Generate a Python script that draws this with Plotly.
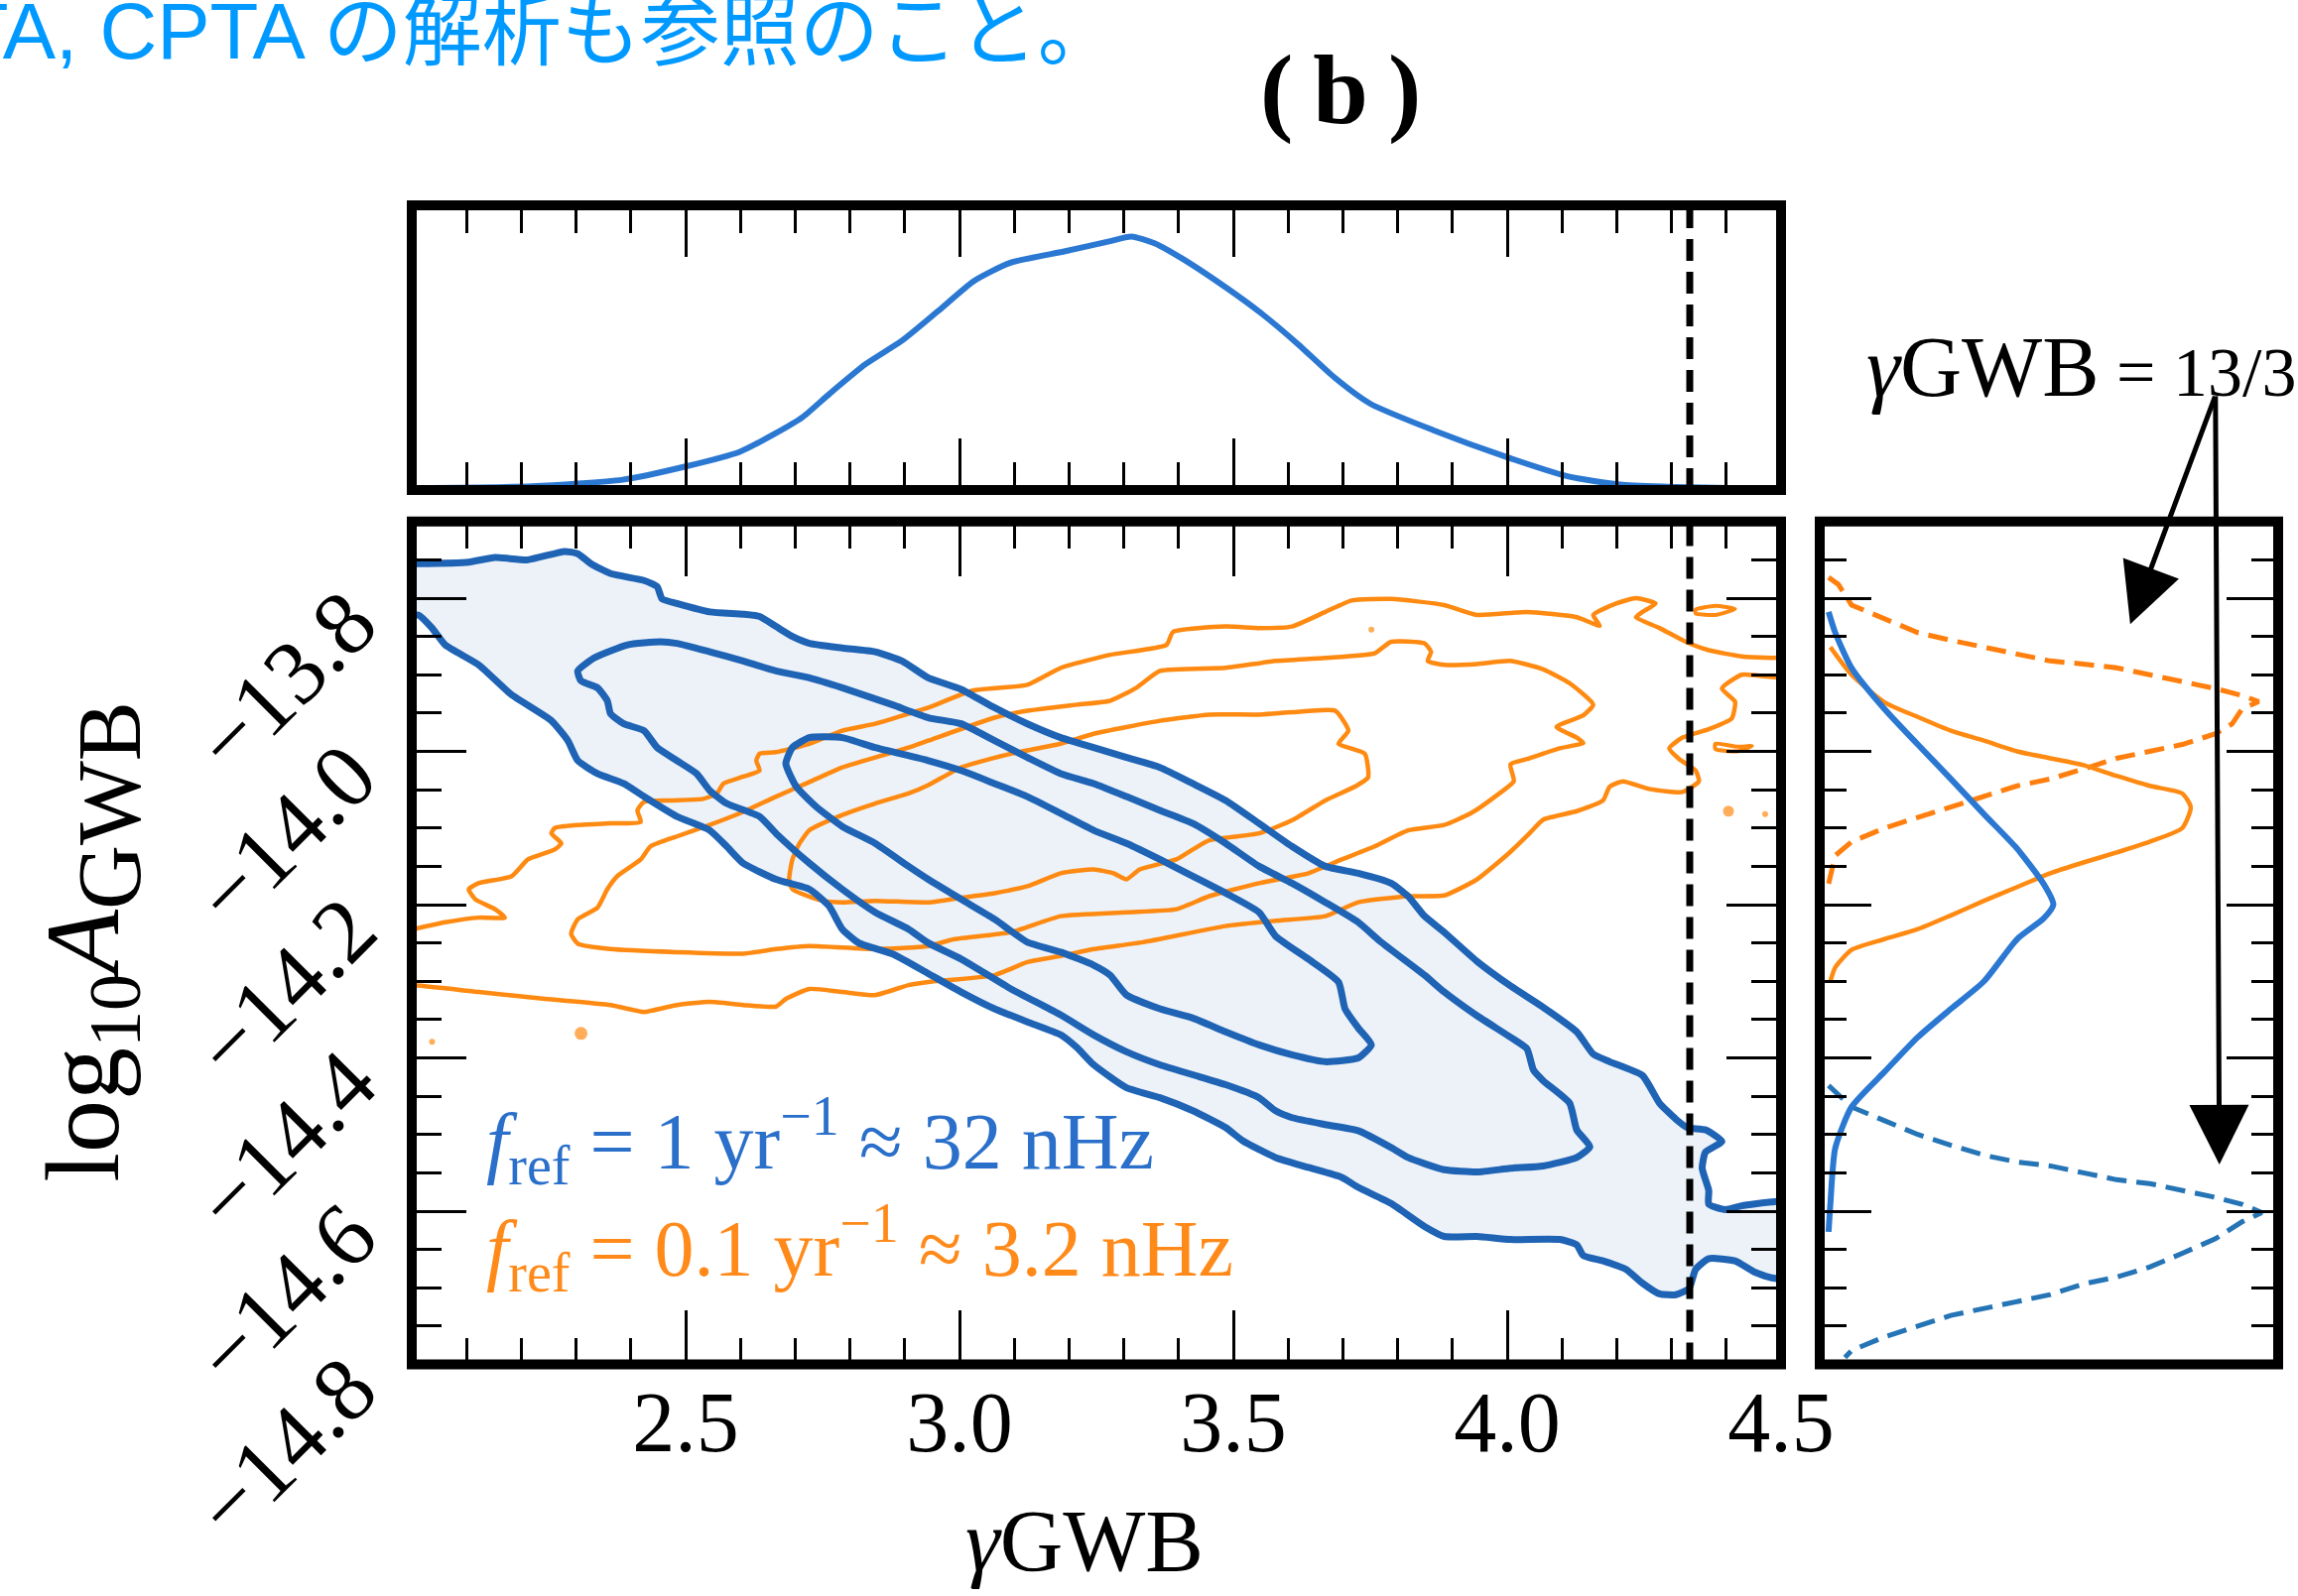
import plotly.graph_objects as go

# ---------------- data ----------------
GAMMA_REF = 13.0 / 3.0          # gamma_GWB = 13/3 (dashed line)

# x ticks (gamma) and y ticks (log10 A)
X_TICKS = [2.5, 3.0, 3.5, 4.0, 4.5]
X_TICK_TEXT = ["2.5", "3.0", "3.5", "4.0", "4.5"]
Y_TICKS = [-14.8, -14.6, -14.4, -14.2, -14.0, -13.8]
Y_TICK_TEXT = ["\u221214.8", "\u221214.6", "\u221214.4", "\u221214.2", "\u221214.0", "\u221213.8"]

# f_ref = 1/yr contours (gamma, log10A)
BLUE_3SIG = [(1.99, -13.755), (2.012, -13.755), (2.104, -13.753), (2.152, -13.747), (2.212, -13.750),
             (2.279, -13.739), (2.303, -13.742), (2.327, -13.755), (2.363, -13.768), (2.424, -13.777),
             (2.448, -13.785), (2.457, -13.801), (2.484, -13.807), (2.544, -13.818), (2.605, -13.821),
             (2.635, -13.824), (2.665, -13.837), (2.695, -13.850), (2.726, -13.859), (2.786, -13.865),
             (2.846, -13.870), (2.895, -13.882), (2.943, -13.904), (3.003, -13.919), (3.064, -13.943),
             (3.124, -13.964), (3.185, -13.982), (3.245, -13.995), (3.305, -14.008), (3.366, -14.021),
             (3.426, -14.042), (3.486, -14.064), (3.547, -14.094), (3.607, -14.124), (3.668, -14.150),
             (3.728, -14.159), (3.788, -14.172), (3.819, -14.189), (3.849, -14.215), (3.885, -14.236),
             (3.945, -14.274), (4.006, -14.306), (4.066, -14.334), (4.127, -14.366), (4.157, -14.395),
             (4.187, -14.405), (4.247, -14.423), (4.278, -14.459), (4.308, -14.480), (4.329, -14.491),
             (4.362, -14.494), (4.392, -14.509), (4.362, -14.523), (4.356, -14.544), (4.368, -14.573),
             (4.368, -14.591), (4.398, -14.598), (4.428, -14.593), (4.483, -14.588), (4.51, -14.588),
             (4.51, -14.687), (4.483, -14.687), (4.453, -14.680), (4.416, -14.665), (4.368, -14.662),
             (4.344, -14.676), (4.332, -14.701), (4.308, -14.709), (4.278, -14.708), (4.247, -14.694),
             (4.217, -14.676), (4.175, -14.665), (4.139, -14.658), (4.127, -14.644), (4.096, -14.637),
             (4.006, -14.637), (3.945, -14.633), (3.885, -14.633), (3.849, -14.620), (3.788, -14.590),
             (3.728, -14.569), (3.698, -14.556), (3.637, -14.543), (3.577, -14.530), (3.517, -14.508),
             (3.486, -14.491), (3.426, -14.469), (3.366, -14.452), (3.305, -14.439), (3.245, -14.409),
             (3.215, -14.387), (3.185, -14.370), (3.124, -14.353), (3.064, -14.336), (3.003, -14.314),
             (2.943, -14.290), (2.880, -14.265), (2.816, -14.250), (2.786, -14.232), (2.762, -14.202),
             (2.726, -14.180), (2.665, -14.167), (2.605, -14.146), (2.575, -14.124), (2.544, -14.103),
             (2.484, -14.085), (2.424, -14.059), (2.387, -14.042), (2.339, -14.029), (2.303, -14.012),
             (2.285, -13.986), (2.255, -13.960), (2.182, -13.926), (2.122, -13.887), (2.061, -13.861),
             (2.037, -13.839), (2.012, -13.822), (1.99, -13.822), (1.99, -13.755)]

BLUE_2SIG = [(2.303, -13.895), (2.333, -13.878), (2.394, -13.861), (2.454, -13.857), (2.484, -13.859),
             (2.544, -13.870), (2.605, -13.882), (2.665, -13.895), (2.726, -13.904), (2.786, -13.917),
             (2.877, -13.939), (2.943, -13.956), (3.003, -13.964), (3.064, -13.986), (3.124, -14.008),
             (3.185, -14.029), (3.245, -14.042), (3.305, -14.059), (3.366, -14.077), (3.426, -14.094),
             (3.486, -14.120), (3.547, -14.150), (3.607, -14.172), (3.668, -14.197), (3.728, -14.223),
             (3.770, -14.249), (3.849, -14.292), (3.885, -14.314), (3.945, -14.345), (4.006, -14.373),
             (4.036, -14.388), (4.048, -14.416), (4.066, -14.430), (4.114, -14.459), (4.127, -14.494),
             (4.151, -14.516), (4.127, -14.530), (4.066, -14.541), (4.006, -14.544), (3.945, -14.549),
             (3.885, -14.546), (3.849, -14.538), (3.819, -14.530), (3.788, -14.517), (3.728, -14.495),
             (3.668, -14.487), (3.607, -14.478), (3.577, -14.469), (3.547, -14.452), (3.486, -14.435),
             (3.426, -14.422), (3.366, -14.409), (3.305, -14.392), (3.245, -14.370), (3.185, -14.344),
             (3.094, -14.310), (3.003, -14.271), (2.943, -14.250), (2.907, -14.232), (2.846, -14.210),
             (2.786, -14.180), (2.726, -14.146), (2.665, -14.107), (2.635, -14.085), (2.575, -14.068),
             (2.544, -14.051), (2.520, -14.029), (2.484, -14.012), (2.448, -13.995), (2.424, -13.973),
             (2.387, -13.964), (2.363, -13.951), (2.357, -13.934), (2.339, -13.917), (2.309, -13.908),
             (2.303, -13.895)]

BLUE_1SIG = [(2.683, -14.016), (2.695, -13.995), (2.726, -13.982), (2.786, -13.982), (2.846, -13.995),
             (2.943, -14.012), (3.003, -14.025), (3.064, -14.042), (3.124, -14.059), (3.185, -14.081),
             (3.245, -14.103), (3.305, -14.120), (3.366, -14.141), (3.426, -14.163), (3.486, -14.185),
             (3.547, -14.210), (3.577, -14.241), (3.637, -14.271), (3.692, -14.301), (3.704, -14.336),
             (3.728, -14.361), (3.752, -14.383), (3.728, -14.400), (3.668, -14.405), (3.607, -14.396),
             (3.547, -14.383), (3.486, -14.366), (3.426, -14.348), (3.366, -14.336), (3.305, -14.318),
             (3.275, -14.292), (3.245, -14.279), (3.185, -14.262), (3.124, -14.249), (3.064, -14.219),
             (3.003, -14.193), (2.943, -14.167), (2.907, -14.150), (2.846, -14.120), (2.786, -14.098),
             (2.738, -14.072), (2.702, -14.046), (2.683, -14.016)]

# f_ref = 0.1/yr contours (gamma, log10A)
ORANGE_1SIG = [(2.689, -14.167), (2.695, -14.141), (2.708, -14.120), (2.726, -14.103), (2.786, -14.083),
               (2.846, -14.068), (2.907, -14.055), (2.943, -14.044), (3.003, -14.021), (3.094, -14.003),
               (3.185, -13.990), (3.245, -13.977), (3.366, -13.960), (3.456, -13.952), (3.547, -13.952),
               (3.607, -13.949), (3.686, -13.947), (3.710, -13.973), (3.692, -13.990), (3.740, -14.003),
               (3.746, -14.034), (3.722, -14.046), (3.668, -14.064), (3.607, -14.090), (3.547, -14.107),
               (3.456, -14.116), (3.426, -14.128), (3.396, -14.141), (3.329, -14.154), (3.305, -14.167),
               (3.281, -14.159), (3.245, -14.154), (3.185, -14.159), (3.124, -14.176), (3.064, -14.185),
               (3.003, -14.191), (2.943, -14.197), (2.846, -14.195), (2.786, -14.197), (2.750, -14.195),
               (2.695, -14.180), (2.689, -14.167)]

ORANGE_2SIG = [(2.291, -14.238), (2.303, -14.219), (2.339, -14.204), (2.357, -14.180), (2.375, -14.163),
               (2.418, -14.141), (2.436, -14.124), (2.484, -14.111), (2.544, -14.096), (2.605, -14.079),
               (2.665, -14.059), (2.726, -14.040), (2.786, -14.021), (2.846, -14.008), (2.907, -13.995),
               (2.943, -13.986), (3.064, -13.956), (3.124, -13.947), (3.215, -13.939), (3.275, -13.934),
               (3.323, -13.917), (3.366, -13.895), (3.486, -13.891), (3.577, -13.882), (3.668, -13.878),
               (3.758, -13.872), (3.788, -13.857), (3.849, -13.859), (3.861, -13.870), (3.855, -13.882),
               (3.885, -13.887), (3.945, -13.886), (4.006, -13.882), (4.066, -13.893), (4.114, -13.911),
               (4.157, -13.939), (4.139, -13.953), (4.090, -13.968), (4.127, -13.982), (4.139, -13.989),
               (4.096, -13.996), (4.036, -14.010), (4.006, -14.017), (4.012, -14.039), (3.976, -14.060),
               (3.933, -14.081), (3.885, -14.096), (3.819, -14.103), (3.758, -14.124), (3.698, -14.141),
               (3.637, -14.159), (3.547, -14.172), (3.456, -14.189), (3.396, -14.206), (3.305, -14.210),
               (3.185, -14.215), (3.094, -14.236), (2.991, -14.245), (2.943, -14.254), (2.846, -14.258),
               (2.726, -14.254), (2.665, -14.258), (2.605, -14.264), (2.484, -14.262), (2.363, -14.258),
               (2.303, -14.251), (2.291, -14.238)]

ORANGE_3SIG = [(1.99, -14.232), (2.001, -14.232), (2.061, -14.223), (2.122, -14.217), (2.170, -14.217),
               (2.152, -14.206), (2.116, -14.193), (2.104, -14.180), (2.122, -14.172), (2.182, -14.163),
               (2.200, -14.150), (2.212, -14.141), (2.261, -14.128), (2.273, -14.120), (2.255, -14.107),
               (2.261, -14.100), (2.303, -14.096), (2.363, -14.094), (2.418, -14.092), (2.412, -14.077),
               (2.424, -14.066), (2.472, -14.064), (2.532, -14.062), (2.557, -14.055), (2.569, -14.042),
               (2.605, -14.033), (2.635, -14.025), (2.629, -14.012), (2.635, -14.003), (2.665, -14.001),
               (2.726, -13.990), (2.786, -13.973), (2.846, -13.964), (2.907, -13.951), (2.943, -13.943),
               (3.022, -13.921), (3.124, -13.913), (3.185, -13.891), (3.275, -13.874), (3.378, -13.861),
               (3.390, -13.844), (3.486, -13.837), (3.547, -13.839), (3.607, -13.837), (3.668, -13.818),
               (3.716, -13.803), (3.788, -13.801), (3.885, -13.809), (3.945, -13.822), (4.036, -13.818),
               (4.127, -13.825), (4.169, -13.836), (4.157, -13.822), (4.199, -13.807), (4.235, -13.800),
               (4.271, -13.807), (4.247, -13.818), (4.235, -13.825), (4.278, -13.839), (4.326, -13.857),
               (4.368, -13.868), (4.428, -13.876), (4.483, -13.878), (4.51, -13.878), (4.51, -13.903),
               (4.483, -13.903), (4.428, -13.900), (4.392, -13.918), (4.416, -13.935), (4.410, -13.957),
               (4.368, -13.971), (4.320, -13.982), (4.296, -13.996), (4.314, -14.010), (4.344, -14.025),
               (4.350, -14.039), (4.320, -14.053), (4.259, -14.049), (4.211, -14.039), (4.187, -14.046),
               (4.175, -14.064), (4.127, -14.078), (4.066, -14.089), (4.042, -14.106), (4.006, -14.131),
               (3.945, -14.167), (3.885, -14.188), (3.819, -14.189), (3.728, -14.197), (3.668, -14.215),
               (3.577, -14.221), (3.486, -14.228), (3.335, -14.249), (3.245, -14.258), (3.185, -14.267),
               (3.124, -14.275), (3.064, -14.292), (2.943, -14.301), (2.907, -14.305), (2.846, -14.318),
               (2.786, -14.314), (2.726, -14.310), (2.683, -14.323), (2.665, -14.333), (2.605, -14.331),
               (2.544, -14.327), (2.484, -14.331), (2.424, -14.340), (2.363, -14.331), (2.243, -14.323),
               (2.122, -14.314), (2.001, -14.305), (1.99, -14.305), (1.99, -14.232)]

ORANGE_ISLAND_1 = [(4.344, -13.815), (4.380, -13.810), (4.416, -13.814), (4.380, -13.822),
                   (4.344, -13.820), (4.344, -13.815)]
ORANGE_ISLAND_2 = [(4.380, -13.990), (4.420, -13.994), (4.447, -13.993), (4.420, -14.000),
                   (4.380, -13.997), (4.380, -13.990)]
ORANGE_SPECKS_G = [3.752, 2.309, 2.037, 4.404, 4.471]
ORANGE_SPECKS_A = [-13.841, -14.368, -14.379, -14.078, -14.082]
ORANGE_SPECKS_SIZE = [6, 13, 6, 11, 6]

# top panel: marginal posterior of gamma (f_ref = 1/yr)
TOP_GAMMA = [2.01, 2.220, 2.385, 2.500, 2.599, 2.664, 2.714, 2.763, 2.829, 2.895, 2.961, 3.026,
             3.092, 3.191, 3.273, 3.314, 3.355, 3.405, 3.487, 3.553, 3.618, 3.684, 3.750, 3.865,
             3.997, 4.112, 4.211, 4.309, 4.408, 4.49]
TOP_DENS = [0.0, 0.007, 0.034, 0.088, 0.148, 0.223, 0.290, 0.385, 0.506, 0.601, 0.722, 0.844,
            0.918, 0.965, 1.006, 1.026, 0.999, 0.938, 0.817, 0.709, 0.587, 0.452, 0.344, 0.236,
            0.128, 0.047, 0.013, 0.004, 0.0, 0.0]

# right panel: marginals of log10A
R_BLUE_A = [-13.818, -13.845, -13.891, -13.945, -13.991, -14.036, -14.082, -14.127, -14.173, -14.200,
            -14.218, -14.245, -14.300, -14.336, -14.373, -14.418, -14.464, -14.518, -14.591, -14.627]
R_BLUE_D = [0.000, 0.015, 0.052, 0.127, 0.202, 0.277, 0.352, 0.427, 0.487, 0.509,
            0.487, 0.427, 0.352, 0.277, 0.202, 0.127, 0.052, 0.015, 0.004, 0.000]
R_ORANGE_A = [-13.864, -13.900, -13.936, -13.955, -13.973, -13.986, -14.000, -14.009, -14.018, -14.032,
              -14.045, -14.055, -14.073, -14.100, -14.118, -14.132, -14.145, -14.159, -14.177, -14.195,
              -14.214, -14.232, -14.245, -14.259, -14.282, -14.300]
R_ORANGE_D = [0.004, 0.052, 0.127, 0.202, 0.277, 0.352, 0.427, 0.502, 0.577, 0.652,
              0.727, 0.801, 0.820, 0.801, 0.727, 0.652, 0.577, 0.502, 0.427, 0.352,
              0.277, 0.202, 0.127, 0.052, 0.015, 0.004]
# conditional on gamma = 13/3 (dashed histograms)
R_ORANGE_FIX_A = [-13.773, -13.782, -13.809, -13.827, -13.845, -13.855, -13.864, -13.873, -13.882, -13.886,
                  -13.891, -13.900, -13.909, -13.918, -13.927, -13.935, -13.945, -13.964, -13.977, -13.991,
                  -14.000, -14.009, -14.023, -14.036, -14.045, -14.059, -14.073, -14.086, -14.100, -14.118,
                  -14.136, -14.173]
R_ORANGE_FIX_D = [0.000, 0.022, 0.052, 0.127, 0.202, 0.277, 0.352, 0.427, 0.502, 0.577,
                  0.652, 0.727, 0.801, 0.876, 0.936, 0.974, 0.936, 0.914, 0.876, 0.801,
                  0.727, 0.652, 0.577, 0.502, 0.427, 0.352, 0.277, 0.202, 0.127, 0.052,
                  0.015, 0.000]
R_BLUE_FIX_A = [-14.436, -14.464, -14.482, -14.500, -14.514, -14.527, -14.536, -14.541, -14.550, -14.559,
                -14.564, -14.573, -14.582, -14.591, -14.602, -14.614, -14.636, -14.655, -14.673, -14.686,
                -14.695, -14.709, -14.718, -14.727, -14.736, -14.750, -14.764, -14.782, -14.791]
R_BLUE_FIX_D = [0.000, 0.052, 0.127, 0.202, 0.277, 0.352, 0.427, 0.502, 0.577, 0.652,
                0.727, 0.801, 0.876, 0.936, 0.981, 0.936, 0.876, 0.801, 0.727, 0.652,
                0.577, 0.502, 0.427, 0.352, 0.277, 0.202, 0.127, 0.052, 0.037]

# ---------------- styling ----------------
C_BLUE = "#1f63b5"
C_BLUE_FILL = "#edf2f8"
C_ORANGE = "#ff8a12"
C_BLUE_MARG = "#2b78d2"
C_BLUE_DASH = "#2474b6"
C_ORANGE_DASH = "#ff7f0e"
SERIF = "Liberation Serif"

W, H = 2316, 1609
MAIN_X = [415 / W, 1795 / W]
MAIN_Y = [1 - 1375.5 / H, 1 - 525.75 / H]
TOP_Y = [1 - 494 / H, 1 - 207 / H]
RIGHT_X = [1834 / W, 2296 / W]


def xy(pts):
    return [p[0] for p in pts], [p[1] for p in pts]


fig = go.Figure()

# blue 3-sigma filled region
gx, ay = xy(BLUE_3SIG)
fig.add_trace(go.Scatter(x=gx, y=ay, mode="lines", fill="toself", fillcolor=C_BLUE_FILL,
                         line=dict(width=0, shape="spline", smoothing=0.5), hoverinfo="skip",
                         xaxis="x", yaxis="y"))
# orange contours
for pts, w in [(ORANGE_3SIG, 4.5), (ORANGE_2SIG, 4.5), (ORANGE_1SIG, 4.5),
               (ORANGE_ISLAND_1, 4), (ORANGE_ISLAND_2, 4)]:
    gx, ay = xy(pts)
    fig.add_trace(go.Scatter(x=gx, y=ay, mode="lines",
                             line=dict(color=C_ORANGE, width=w, shape="spline", smoothing=0.5),
                             xaxis="x", yaxis="y"))
fig.add_trace(go.Scatter(x=ORANGE_SPECKS_G, y=ORANGE_SPECKS_A, mode="markers",
                         marker=dict(color=C_ORANGE, size=ORANGE_SPECKS_SIZE, line=dict(width=0)),
                         xaxis="x", yaxis="y"))
# blue contour lines
for pts in [BLUE_3SIG, BLUE_2SIG, BLUE_1SIG]:
    gx, ay = xy(pts)
    fig.add_trace(go.Scatter(x=gx, y=ay, mode="lines",
                             line=dict(color=C_BLUE, width=7, shape="spline", smoothing=0.5),
                             xaxis="x", yaxis="y"))

# top panel marginal
fig.add_trace(go.Scatter(x=TOP_GAMMA, y=TOP_DENS, mode="lines",
                         line=dict(color=C_BLUE_MARG, width=6, shape="spline", smoothing=0.6),
                         xaxis="x2", yaxis="y2"))

# right panel marginals
fig.add_trace(go.Scatter(x=R_ORANGE_FIX_D, y=R_ORANGE_FIX_A, mode="lines",
                         line=dict(color=C_ORANGE_DASH, width=5, dash="20px,10px"),
                         xaxis="x3", yaxis="y3"))
fig.add_trace(go.Scatter(x=R_BLUE_FIX_D, y=R_BLUE_FIX_A, mode="lines",
                         line=dict(color=C_BLUE_DASH, width=5, dash="20px,10px"),
                         xaxis="x3", yaxis="y3"))
fig.add_trace(go.Scatter(x=R_ORANGE_D, y=R_ORANGE_A, mode="lines",
                         line=dict(color=C_ORANGE, width=4.5, shape="spline", smoothing=0.6),
                         xaxis="x3", yaxis="y3"))
fig.add_trace(go.Scatter(x=R_BLUE_D, y=R_BLUE_A, mode="lines",
                         line=dict(color=C_BLUE_MARG, width=6, shape="spline", smoothing=0.6),
                         xaxis="x3", yaxis="y3"))

tickfont = dict(family=SERIF, size=86, color="black")
common_tick = dict(ticks="inside", tickwidth=3, tickcolor="black", showgrid=False,
                   zeroline=False, showline=False, mirror="ticks", automargin=False)

fig.update_layout(
    template="none",
    width=W, height=H, margin=dict(l=0, r=0, t=0, b=0, pad=0, autoexpand=False),
    paper_bgcolor="white", plot_bgcolor="white", showlegend=False,
    xaxis=dict(domain=MAIN_X, range=[2.0, 4.5], anchor="y", tickmode="array",
               tickvals=X_TICKS, ticktext=X_TICK_TEXT, ticklen=55, tickfont=tickfont,
               minor=dict(ticks="inside", ticklen=27, tickwidth=3, tickcolor="black",
                          tickmode="linear", tick0=2.0, dtick=0.1, showgrid=False),
               **common_tick),
    yaxis=dict(domain=MAIN_Y, range=[-14.8, -13.7], anchor="x", tickmode="array",
               tickvals=Y_TICKS, ticktext=Y_TICK_TEXT, ticklen=55, tickangle=-45,
               tickfont=dict(family=SERIF, size=92, color="black"),
               ticklabelstandoff=62, ticklabelshift=12,
               minor=dict(ticks="inside", ticklen=30, tickwidth=3, tickcolor="black",
                          tickmode="linear", tick0=-14.8, dtick=0.05, showgrid=False),
               **common_tick),
    xaxis2=dict(domain=MAIN_X, range=[2.0, 4.5], anchor="y2", tickmode="array",
                tickvals=X_TICKS, ticklen=52, showticklabels=False,
                minor=dict(ticks="inside", ticklen=28, tickwidth=3, tickcolor="black",
                           tickmode="linear", tick0=2.0, dtick=0.1, showgrid=False),
                **common_tick),
    yaxis2=dict(domain=TOP_Y, range=[-0.008, 1.153], anchor="x2", showticklabels=False,
                ticks="", showgrid=False, zeroline=False, showline=False, automargin=False),
    xaxis3=dict(domain=RIGHT_X, range=[-0.020, 1.018], anchor="y3", showticklabels=False,
                ticks="", showgrid=False, zeroline=False, showline=False, automargin=False),
    yaxis3=dict(domain=MAIN_Y, range=[-14.8, -13.7], anchor="x3", tickmode="array",
                tickvals=Y_TICKS, ticklen=52, showticklabels=False,
                minor=dict(ticks="inside", ticklen=27, tickwidth=3, tickcolor="black",
                           tickmode="linear", tick0=-14.8, dtick=0.05, showgrid=False),
                **common_tick),
)

# frames (thick black boxes)
for (x0, x1), (y0, y1) in [(MAIN_X, MAIN_Y), (MAIN_X, TOP_Y), (RIGHT_X, MAIN_Y)]:
    fig.add_shape(type="rect", xref="paper", yref="paper", x0=x0, x1=x1, y0=y0, y1=y1,
                  line=dict(color="black", width=10), fillcolor="rgba(0,0,0,0)", layer="above")

# dashed gamma = 13/3 lines
for xr, yr in [("x", "y domain"), ("x2", "y2 domain")]:
    fig.add_shape(type="line", xref=xr, yref=yr, x0=GAMMA_REF, x1=GAMMA_REF, y0=0, y1=1,
                  line=dict(color="black", width=7, dash="22px,11px"), layer="above")

# text
fig.add_annotation(xref="paper", yref="paper", x=1128 / W, y=1 - 32 / H, xanchor="right",
                   yanchor="middle", showarrow=False,
                   text="PPTA, CPTA \u306e\u89e3\u6790\u3082\u53c2\u7167\u306e\u3053\u3068\u3002",
                   font=dict(family="Liberation Sans, Noto Sans CJK JP", size=80, color="#0099ff"))
fig.add_annotation(xref="paper", yref="paper", x=1351 / W, y=1 - 90 / H, showarrow=False,
                   yanchor="middle", text="<b>(\u2009b\u2009)</b>",
                   font=dict(family=SERIF, size=100, color="black"))
fig.add_annotation(xref="paper", yref="paper", x=1093 / W, y=1 - 1553 / H, showarrow=False,
                   yanchor="middle", text="<i>\u03b3</i>GWB",
                   font=dict(family=SERIF, size=88, color="black"))
fig.add_annotation(xref="paper", yref="paper", x=22 / W, y=1 - 950 / H, showarrow=False,
                   textangle=-90,
                   text="log<sub>10</sub><i>A</i><sub><span style='font-size:90px'>GWB</span></sub>",
                   font=dict(family=SERIF, size=106, color="black"))
fig.add_annotation(xref="paper", yref="paper", x=488 / W, y=1 - 1150 / H, xanchor="left",
                   yanchor="middle", showarrow=False,
                   text="<i>f</i><sub>ref</sub> = 1 yr<sup>\u22121</sup> \u2248 32 nHz",
                   font=dict(family=SERIF, size=80, color="#2a6fca"))
fig.add_annotation(xref="paper", yref="paper", x=488 / W, y=1 - 1258 / H, xanchor="left",
                   yanchor="middle", showarrow=False,
                   text="<i>f</i><sub>ref</sub> = 0.1 yr<sup>\u22121</sup> \u2248 3.2 nHz",
                   font=dict(family=SERIF, size=80, color="#ff8a1a"))
fig.add_annotation(xref="paper", yref="paper", x=2316 / W, y=1 - 370 / H, xanchor="right",
                   yanchor="middle", showarrow=False,
                   text="<i>\u03b3</i>GWB<span style='font-size:70px'> = 13/3</span>",
                   font=dict(family=SERIF, size=86, color="black"))
# arrows pointing to the conditional (gamma = 13/3) histograms
for hx, hy, ax, ay in [(0.683, -13.834, 86, -231), (0.885, -14.539, -4, -776)]:
    fig.add_annotation(xref="x3", yref="y3", x=hx, y=hy, ax=ax, ay=ay, text="",
                       showarrow=True, arrowhead=2, arrowsize=2.4, arrowwidth=5,
                       arrowcolor="black", standoff=0)

fig.write_html("out.html")
